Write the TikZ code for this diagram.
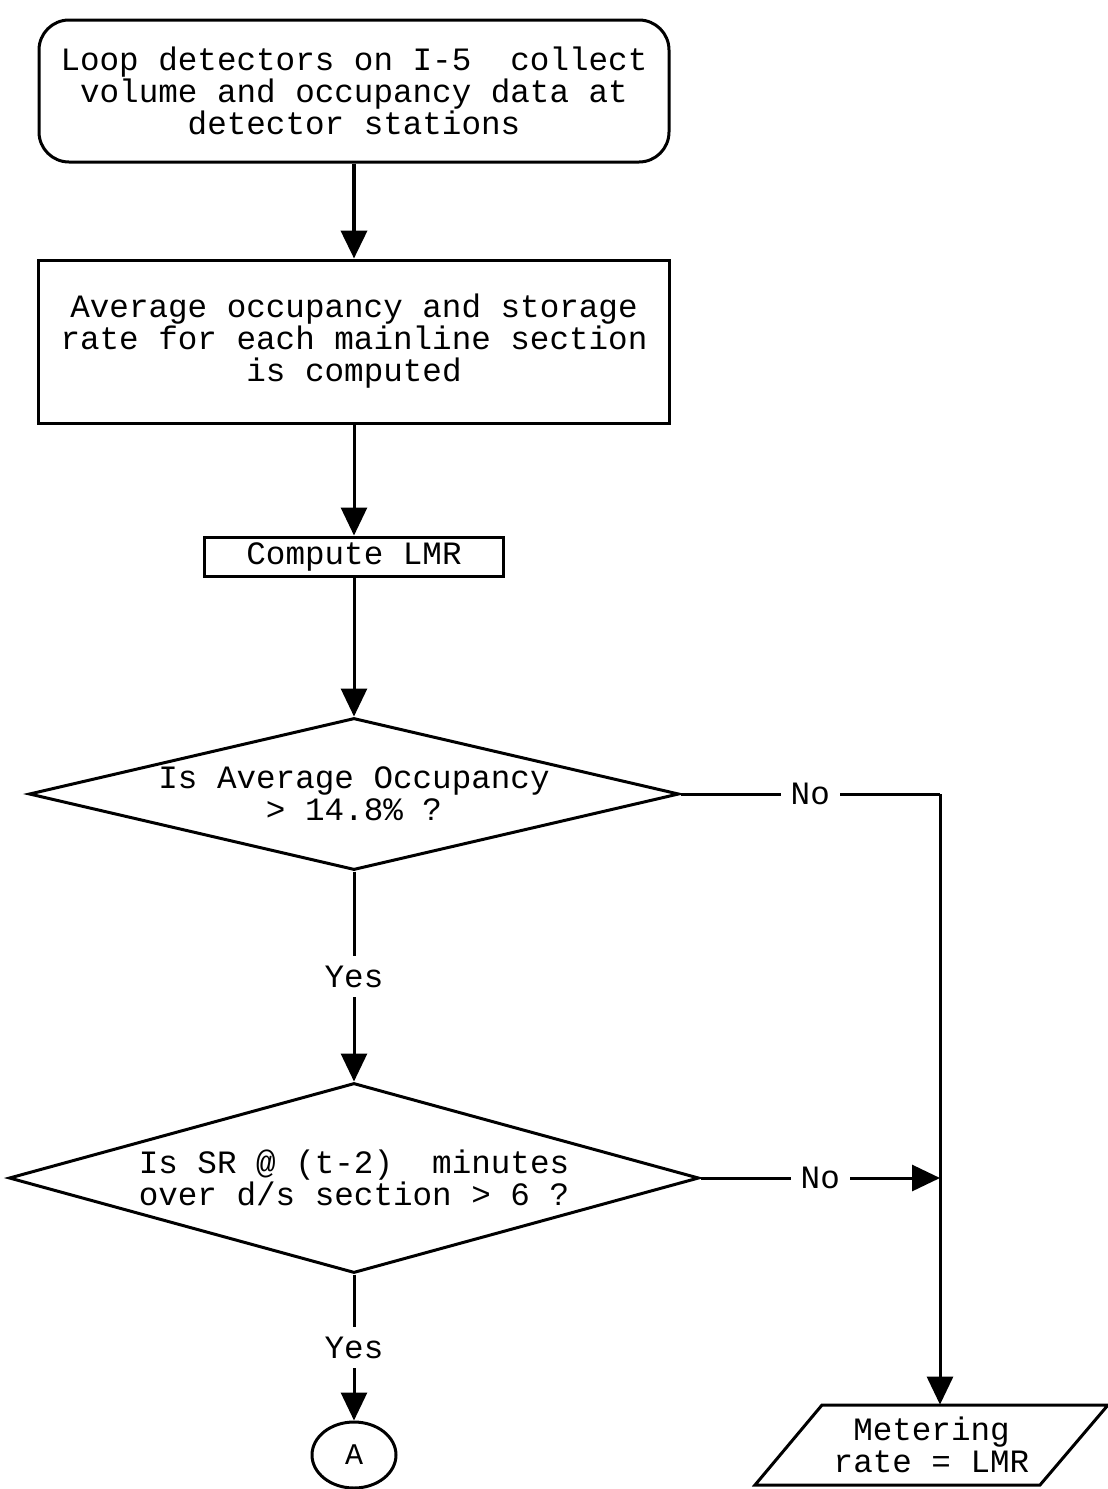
\documentclass[tikz,border=0pt]{standalone}
\usepackage{fontspec}
\setmonofont{Liberation Mono}
\usetikzlibrary{shapes.geometric,arrows.meta}
\begin{document}
\begin{tikzpicture}[x=0.5pt,y=-0.5pt,
  every node/.style={font=\ttfamily\fontsize{16.3}{16}\selectfont, align=center},
  box/.style={draw, line width=1.5pt, inner sep=0pt},
  decision/.style={draw, line width=1.5pt, diamond, inner sep=0pt},
  flow/.style={line width=1.5pt, -{Triangle[length=14pt,width=13pt]}},
  plain/.style={line width=1.5pt},
  tag/.style={fill=white, inner sep=5pt}]
\useasboundingbox (0,0) rectangle (1108,1489);

% process boxes
\node[box, rounded corners=15pt, minimum width=315pt, minimum height=71pt] (collect) at (354,91)
  {Loop detectors on I-5\ \ collect\\volume and occupancy data at\\detector stations};
\node[box, minimum width=315.5pt, minimum height=81.5pt] (average) at (354,341.5)
  {Average occupancy and storage\\rate for each mainline section\\is computed};
\node[box, minimum width=149.5pt, minimum height=19.5pt] (lmr) at (354,556.5) {Compute LMR};

% decisions
\node[decision, shape aspect=4.3, minimum width=325pt, minimum height=76pt] (occ) at (354,794)
  {\fontsize{16.3}{15}\selectfont Is Average Occupancy\\> 14.8\% ?};
\node[decision, shape aspect=3.63, minimum width=345pt, minimum height=95pt] (sr) at (354,1178)
  {\fontsize{16.3}{15.5}\selectfont Is SR @ (t-2)\ \ minutes\\over d/s section > 6 ?};

% off-page connector
\node[draw, ellipse, line width=1.5pt, minimum width=42pt, minimum height=33pt, inner sep=0pt,
  font=\ttfamily\fontsize{15}{15}\selectfont] (conA) at (354,1455) {A};

% output (parallelogram drawn around its text)
\node[minimum width=110pt, minimum height=40pt, inner sep=0pt] (meter) at (931.5,1445)
  {Metering\\rate = LMR};
\draw[line width=1.5pt] (822,1405) -- (1108,1405) -- (1040,1485) -- (755,1485) -- cycle;

% junction points on the right-hand line
\coordinate (corner) at (940,794);
\coordinate (join) at (940,1178);

% connectors
\draw[flow, line width=2pt] (collect.south) -- (average.north);
\draw[flow] (average.south) -- (lmr.north);
\draw[flow] (lmr.south) -- (occ.north);
\draw[flow] (occ.south) -- node[tag] {Yes} (sr.north);
\draw[flow] (sr.south) -- node[tag] {Yes} (conA.north);
\draw[plain] (occ.east) -- node[tag] {No} (corner);
\draw[flow] (corner) -- (corner |- meter.north);
\draw[flow] (sr.east) -- node[tag] {No} (join);
\end{tikzpicture}
\end{document}
